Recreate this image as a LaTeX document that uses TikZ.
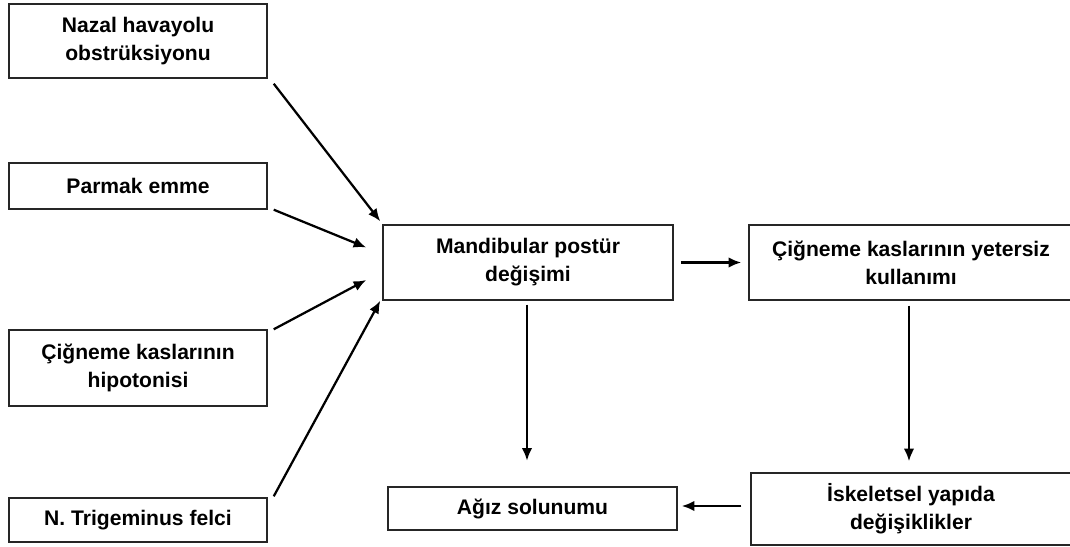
\documentclass[tikz,border=0pt]{standalone}
\usepackage{fontspec}
\setmainfont{Liberation Sans}
\usetikzlibrary{arrows.meta,calc}
\tikzset{
  kutu/.style={draw=black!85, line width=1pt, align=center, inner sep=0pt,
    font=\fontsize{15}{20}\selectfont\bfseries},
  ok/.style={->, line width=1.6pt},
}
\begin{document}
\begin{tikzpicture}[x=0.025cm, y=-0.025cm, >={Latex[length=9pt,width=7.5pt]}]
\clip (0,0) rectangle (1070,546);

% sol sutun
\node[kutu, minimum width=6.45cm, minimum height=1.85cm] (nazal) at (138,41) {Nazal havayolu\\obstrüksiyonu};
\node[kutu, minimum width=6.45cm, minimum height=1.15cm] (parmak) at (138,186) {Parmak emme};
\node[kutu, minimum width=6.45cm, minimum height=1.9cm] (hipo) at (138,368) {Çiğneme kaslarının\\hipotonisi};
\node[kutu, minimum width=6.45cm, minimum height=1.1cm] (trig) at (138,520) {N. Trigeminus felci};

% orta ve sag
\node[kutu, minimum width=7.25cm, minimum height=1.875cm] (mand) at (528,262.5) {Mandibular postür\\değişimi};
\node[kutu, minimum width=8.1cm, minimum height=1.875cm] (yet) at (911,262.5) {Çiğneme kaslarının yetersiz\\kullanımı};
\node[kutu, minimum width=7.225cm, minimum height=1.075cm] (agiz) at (532.5,508.5) {Ağız solunumu};
\node[kutu, minimum width=8cm, minimum height=1.8cm] (isk) at (911,509) {İskeletsel yapıda\\değişiklikler};

% oklar
\draw[ok] ($(nazal.south east)+(6,5)$) -- ($(mand.north west)+(-2,-3)$);
\draw[ok] ($(parmak.south east)+(6,0)$) -- ($(mand.west)+(-16,-15)$);
\draw[ok] ($(hipo.north east)+(6,0)$) -- ($(mand.west)+(-16,17.5)$);
\draw[ok] ($(trig.north east)+(6,-1)$) -- ($(mand.south west)+(-2,0)$);

\draw[ok] ($(mand.east)+(7,0)$) -- ($(yet.west)+(-7,0)$);
\draw[ok] ($(mand.south)+(-1,4)$) -- ($(mand.south)+(-1,160)$);
\draw[ok] ($(yet.south)+(-2,5)$) -- ($(isk.north)+(-2,-11)$);
\draw[ok] ($(isk.west)+(-9,-3)$) -- ($(agiz.east)+(4,-2.5)$);
\end{tikzpicture}
\end{document}
